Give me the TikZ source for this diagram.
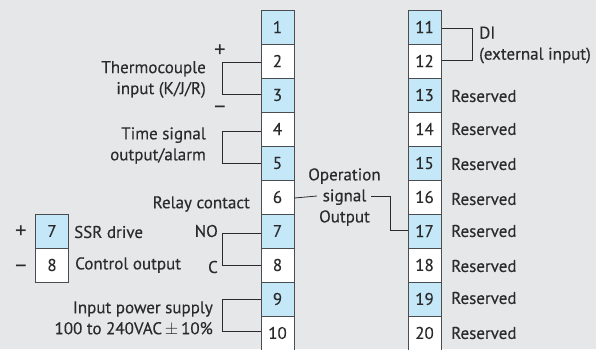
\documentclass[tikz,border=0pt]{standalone}
\usepackage{fontspec}
\setmainfont{PT Sans}[FakeBold=0.25]
\newfontfamily\signfont{PT Sans}
\definecolor{bgc}{HTML}{E6E7E9}
\definecolor{cellblue}{HTML}{C5E8F9}
\definecolor{ink}{HTML}{2B2A2C}
\definecolor{edge}{HTML}{4A4C50}
\tikzset{
  cellbase/.style={draw=edge,line width=1pt,minimum width=33pt,minimum height=34pt,inner sep=0pt,text=ink,font=\fontsize{17}{17}\selectfont},
  bluecell/.style={cellbase,fill=cellblue},
  whitecell/.style={cellbase,fill=white},
  lab/.style={text=ink,inner sep=0pt,align=right,font=\fontsize{17}{21}\selectfont},
  sign/.style={text=ink,inner sep=0pt,font=\signfont\fontsize{23}{23}\selectfont},
  wire/.style={draw=ink,line width=0.8pt}
}
\begin{document}
\begin{tikzpicture}[x=1pt,y=-1pt]
\useasboundingbox (0,0) rectangle (596,349);
\clip (0,0) rectangle (596,349);
\fill[bgc] (0,0) rectangle (596,349);
% left terminal column
\foreach \n/\st/\yy in {1/bluecell/27,2/whitecell/61,3/bluecell/95,4/whitecell/129,5/bluecell/163,6/whitecell/197,7/bluecell/231,8/whitecell/265,9/bluecell/299,10/whitecell/333}
  \node[\st] (a\n) at (277.5,\yy) {\raisebox{-1pt}{\n}};
% right terminal column
\foreach \n/\st/\yy in {11/bluecell/27,12/whitecell/61,13/bluecell/95,14/whitecell/129,15/bluecell/163,16/whitecell/197,17/bluecell/231,18/whitecell/265,19/bluecell/299,20/whitecell/333}
  \node[\st] (b\n) at (424.5,\yy) {\raisebox{-1pt}{\n}};
% small SSR block
\node[bluecell] (s7) at (52,231) {\raisebox{-1pt}{7}};
\node[whitecell] (s8) at (52,265) {\raisebox{-1pt}{8}};
% left labels
\node[lab,anchor=east] (tc) at (206,79.5) {Thermocouple\\input (K/J/R)};
\node[lab,anchor=east] (ts) at (206,145.5) {Time signal\\output/alarm};
\node[lab,anchor=east] (rc) at (250,204) {Relay contact};
\node[lab,anchor=east] (no) at (218,231) {NO};
\node[lab,anchor=east] (cc) at (218,267) {C};
\node[lab,anchor=east] (ip) at (213,318.5) {Input power supply\\100 to 240VAC\,$\pm$\,10\%};
\node[lab,anchor=west] (ssr) at (74,232) {SSR drive};
\node[lab,anchor=west] (co) at (75,265) {Control output};
\node[sign] (p1) at (220,51) {+};
\node[sign] (m1) at (220,110) {–};
\node[sign] (p2) at (21,232) {+};
\node[sign] (m2) at (21,269) {–};
% middle and right labels
\node[lab,align=center] (op) at (344.5,197) {Operation\\signal\\Output};
\node[lab,anchor=west,align=left] (di) at (479,45) {DI\\(external input)};
\foreach \n/\yy in {13/96,14/129,15/164,16/199,17/231,18/266,19/298,20/333}
  \node[lab,anchor=west] (r\n) at (451,\yy) {Reserved};
% connectors
\coordinate (opl) at (317,196);
\coordinate (opr) at (371,196);
\draw[wire] ([yshift=-1pt]a2.west) -- ++(-38,0) |- ([yshift=1pt]a3.west);
\draw[wire] ([yshift=-2pt]a4.west) -- ++(-38,0) |- (a5.west);
\draw[wire] ([yshift=-2pt]a7.west) -- ++(-38,0) |- (a8.west);
\draw[wire] (a9.west) -- ++(-38,0) |- ([yshift=2pt]a10.west);
\draw[wire] ([yshift=-1pt]b11.east) -- ++(31,0) |- ([yshift=1pt]b12.east);
\draw[wire] ([yshift=-1pt]a6.east) -- (opl);
\draw[wire] (opr) -- ++(19,0) |- ([yshift=1pt]b17.west);
\end{tikzpicture}
\end{document}
